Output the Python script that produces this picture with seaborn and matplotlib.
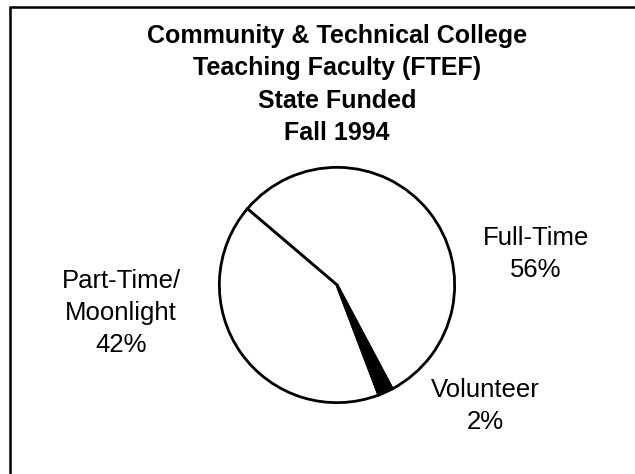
import matplotlib
matplotlib.use("Agg")
import matplotlib.pyplot as plt
import seaborn as sns
from matplotlib.lines import Line2D

# data
labels = ["Full-Time", "Part-Time/\nMoonlight", "Volunteer"]
shares = [56, 42, 2]
colors = ["white", "white", "black"]
title_lines = ["Community & Technical College", "Teaching Faculty (FTEF)",
               "State Funded", "Fall 1994"]

sns.set_theme(style="white")
plt.rcParams["font.family"] = ["Liberation Sans", "DejaVu Sans"]

W, H = 635, 474
fig = plt.figure(figsize=(W / 100, H / 100), dpi=100)
fig.patch.set_facecolor("white")

def fx(x):
    return x / W

def fy(y):
    return 1 - y / H

# frame (top and left edges visible in the scan)
fig.add_artist(Line2D([fx(10), fx(635)], [fy(7), fy(7)], color="black", lw=1.8))
fig.add_artist(Line2D([fx(10), fx(10)], [fy(7), fy(474)], color="black", lw=1.8))

# title
for i, line in enumerate(title_lines):
    fig.text(fx(337), fy(43 + 32.3 * i), line, ha="center", va="baseline",
             fontsize=18, fontweight="bold", color="black")

# pie
cx, cy, r = 337, 285, 120
ax = fig.add_axes([fx(cx - r), fy(cy + r), 2 * r / W, 2 * r / H])
ax.pie(shares, colors=colors, startangle=-62, counterclock=True, radius=1,
       wedgeprops=dict(edgecolor="black", linewidth=2.0))
ax.set_xlim(-1.02, 1.02)
ax.set_ylim(-1.02, 1.02)
ax.set_aspect("equal")
ax.axis("off")

# labels: center x and first baseline (pixels)
label_pos = [(536, 245), (121, 288), (485, 397)]
for lab, val, (lx, ly) in zip(labels, shares, label_pos):
    lines = lab.split("\n") + [f"{val}%"]
    for j, t in enumerate(lines):
        fig.text(fx(lx), fy(ly + 32 * j), t, ha="center", va="baseline",
                 fontsize=18.5, color="black")

fig.savefig("out.png", dpi=100, facecolor="white")
